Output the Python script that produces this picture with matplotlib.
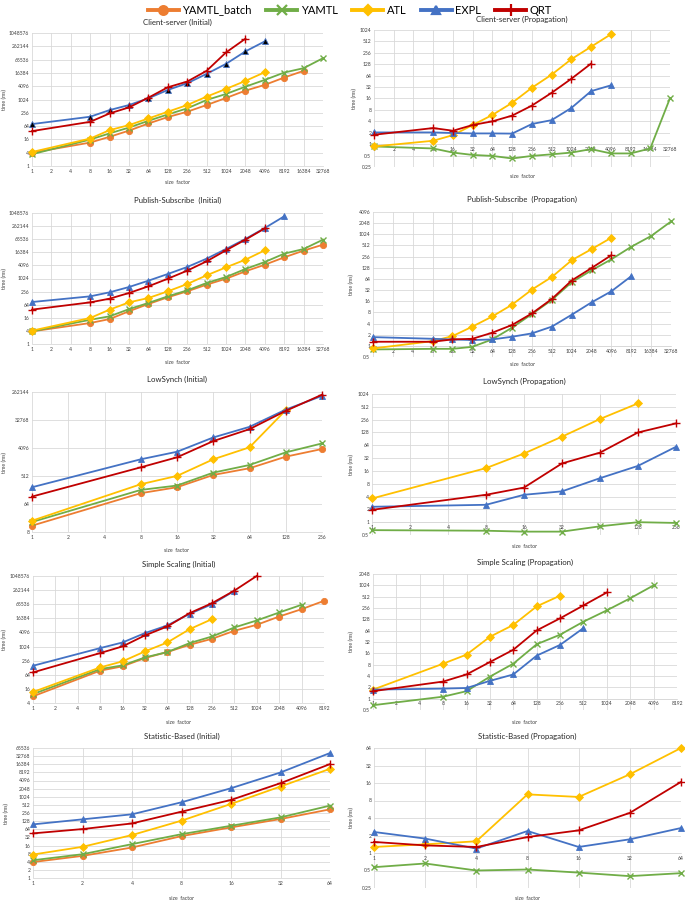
import matplotlib
matplotlib.use('Agg')
import matplotlib.pyplot as plt
from matplotlib.lines import Line2D

plt.rcParams['font.family'] = ['Lato', 'DejaVu Sans']

# ---------------- data ----------------
series_names = ['YAMTL_batch', 'YAMTL', 'ATL', 'EXPL', 'QRT']

cs_sizes = [1, 2, 4, 8, 16, 32, 64, 128, 256, 512, 1024, 2048, 4096, 8192, 16384, 32768]
cs_init_batch = [4, None, None, 11.5, 21, 40, 84, 164, 286, 575, 1200, 2580, 4700, 10100, 20300, None]
cs_init_yamtl = [3.4, None, None, 15.8, 30, 55, 111, 216, 406, 970, 1820, 3900, 7900, 17000, 26800, 76000]
cs_init_atl = [4.3, None, None, 17.5, 42, 71, 142, 286, 575, 1380, 3080, 7100, 17600, None, None, None]
cs_init_expl = [79, None, None, 170, 340, 575, 1160, 2770, 5560, 14800, 42000, 154000, 438000, None, None, None]
cs_init_qrt = [38, None, None, 100, 240, 450, 1240, 3660, 6650, 20300, 138000, 578000, None, None, None, None]

cs_prop_yamtl = [0.87, None, None, 0.77, 0.6, 0.52, 0.49, 0.42, 0.49, 0.54, 0.6, 0.74, 0.57, 0.57, 0.77, 16.3]
cs_prop_atl = [0.87, None, None, 1.23, 1.73, 3.2, 5.9, 12.3, 30.7, 68, 174, 370, 787, None, None, None]
cs_prop_expl = [2.04, None, None, 2.04, 1.97, 1.92, 1.92, 1.9, 3.4, 4.3, 9.0, 25, 35.5, None, None, None]
cs_prop_qrt = [1.77, None, None, 2.66, 2.26, 3.2, 4.0, 5.66, 10.4, 22.6, 53, 133, None, None, None, None]

ps_sizes = [1, 2, 4, 8, 16, 32, 64, 128, 256, 512, 1024, 2048, 4096, 8192, 16384, 32768]
ps_init_batch = [3.8, None, None, 9.2, 14, 32, 69, 140, 263, 533, 1000, 2190, 4400, 9600, 19500, 36800]
ps_init_yamtl = [3.8, None, None, 13, 18.7, 40, 77, 155, 292, 636, 1200, 2800, 5870, 14200, 23200, 62400]
ps_init_atl = [4.1, None, None, 15.7, 38, 82, 130, 263, 572, 1430, 3330, 7500, 20200, None, None, None]
ps_init_expl = [85, None, None, 155, 237, 416, 813, 1650, 3460, 8350, 23200, 67000, 214000, 737000, None, None]
ps_init_qrt = [38, None, None, 82, 121, 221, 447, 1000, 2350, 6300, 20200, 62400, 205000, None, None, None]

ps_prop_yamtl = [0.8, None, None, 0.83, 0.83, 0.94, 1.49, 3.1, 7.2, 17.3, 52, 109, 217, 472, 923, 2270]
ps_prop_atl = [0.85, None, None, 1.34, 1.83, 3.3, 6.2, 12.9, 33, 72, 204, 407, 830, None, None, None]
ps_prop_expl = [1.72, None, None, 1.55, 1.49, 1.43, 1.49, 1.76, 2.17, 3.3, 6.9, 14.9, 29.7, 76, None, None]
ps_prop_qrt = [1.29, None, None, 1.29, 1.49, 1.55, 2.26, 3.66, 7.5, 18.4, 58, 126, 280, None, None, None]

ls_sizes = [1, 2, 4, 8, 16, 32, 64, 128, 256]
ls_init_batch = [12.8, None, None, 143, 222, 553, 910, 2150, 3800]
ls_init_yamtl = [16.8, None, None, 182, 252, 657, 1160, 2960, 5750]
ls_init_atl = [18.5, None, None, 278, 515, 1770, 4300, 67800, None]
ls_init_expl = [222, None, None, 1770, 3100, 8960, 19700, 71000, 196000]
ls_init_qrt = [111, None, None, 975, 2050, 6840, 16600, 64500, 215000]

ls_prop_yamtl = [0.65, None, None, 0.63, 0.6, 0.6, 0.8, 1.0, 0.96]
ls_prop_atl = [3.6, None, None, 18.6, 41, 102, 265, 617, None]
ls_prop_expl = [2.3, None, None, 2.56, 4.4, 5.3, 10.8, 21, 59]
ls_prop_qrt = [1.95, None, None, 4.4, 6.5, 24, 43, 128, 209]

ss_sizes = [1, 2, 4, 8, 16, 32, 64, 128, 256, 512, 1024, 2048, 4096, 8192]
ss_init_batch = [7.7, None, None, 96, 146, 331, 596, 1220, 2200, 4830, 8700, 19600, 40300, 91400]
ss_init_yamtl = [9.6, None, None, 112, 161, 352, 596, 1440, 2760, 6700, 13300, 29100, 62000, None]
ss_init_atl = [11.8, None, None, 132, 239, 635, 1530, 5670, 15200, None, None, None, None, None]
ss_init_expl = [155, None, None, 880, 1530, 3840, 8150, 25500, 65800, 244000, None, None, None, None]
ss_init_qrt = [81, None, None, 540, 1040, 3060, 7380, 27400, 72900, 251000, 1060000, None, None, None]

ss_prop_yamtl = [0.67, None, None, 1.13, 1.58, 3.85, 8.5, 27.9, 50, 111, 222, 464, 1024, None]
ss_prop_atl = [1.74, None, None, 8.5, 14.8, 44, 91, 283, 544, None, None, None, None, None]
ss_prop_expl = [1.74, None, None, 1.85, 1.92, 2.97, 4.4, 13.9, 26.8, 75, None, None, None, None]
ss_prop_qrt = [1.58, None, None, 2.85, 4.4, 9.4, 19.9, 65, 136, 300, 662, None, None, None]

sb_sizes = [1, 2, 4, 8, 16, 32, 64]
sb_init_batch = [3.9, 6.6, 13.5, 35.6, 75, 153, 350]
sb_init_yamtl = [4.55, 7.6, 18, 42, 86, 176, 480]
sb_init_atl = [7.4, 14.3, 39, 133, 555, 2450, 11100]
sb_init_expl = [97, 149, 229, 639, 2120, 8130, 42700]
sb_init_qrt = [45, 65, 105, 287, 780, 3260, 16600]

sb_prop_yamtl = [0.57, 0.66, 0.5, 0.52, 0.46, 0.4, 0.45]
sb_prop_atl = [1.27, 1.41, 1.59, 10.2, 9.2, 22.6, 64]
sb_prop_expl = [2.3, 1.77, 1.19, 2.39, 1.27, 1.72, 2.69]
sb_prop_qrt = [1.55, 1.35, 1.27, 1.88, 2.45, 4.9, 16.7]

yt_big = [1, 4, 16, 64, 256, 1024, 4096, 16384, 65536, 262144, 1048576]
yt_cs_prop = [0.25, 0.5, 1, 2, 4, 8, 16, 32, 64, 128, 256, 512, 1024]
yt_ps_prop = [0.5, 1, 2, 4, 8, 16, 32, 64, 128, 256, 512, 1024, 2048, 4096]
yt_ls_init = [8, 64, 512, 4096, 32768, 262144]
yt_ls_prop = [0.5, 1, 2, 4, 8, 16, 32, 64, 128, 256, 512, 1024]
yt_ss_init = [4, 16, 64, 256, 1024, 4096, 16384, 65536, 262144, 1048576]
yt_ss_prop = [0.5, 1, 2, 4, 8, 16, 32, 64, 128, 256, 512, 1024, 2048]
yt_sb_init = [1, 2, 4, 8, 16, 32, 64, 128, 256, 512, 1024, 2048, 4096, 8192, 16384, 32768, 65536]
yt_sb_prop = [0.25, 0.5, 1, 2, 4, 8, 16, 32, 64]

# ---------------- style ----------------
colors = {'YAMTL_batch': '#ED7D31', 'YAMTL': '#70AD47', 'ATL': '#FFC000',
          'EXPL': '#4472C4', 'QRT': '#C00000'}
markers = {'YAMTL_batch': 'o', 'YAMTL': 'x', 'ATL': 'D', 'EXPL': '^', 'QRT': '+'}
msizes = {'YAMTL_batch': 4.5, 'YAMTL': 5, 'ATL': 4, 'EXPL': 4.5, 'QRT': 6}
GRID = '#D9D9D9'
W, H = 685, 901

fig = plt.figure(figsize=(W / 100, H / 100), dpi=100)


def fmt(v):
    return str(int(v)) if v >= 1 else ('%g' % v)


def panel(box, title, title_y, sizes, data, yticks, cross, xlabel_y, ylabel_x, expl_black=False):
    l, r, t, b = box
    ax = fig.add_axes([l / W, 1 - b / H, (r - l) / W, (b - t) / H])
    ax.set_yscale('log')
    for s in ['top', 'right', 'left']:
        ax.spines[s].set_visible(False)
    ax.spines['bottom'].set_color(GRID)
    ax.spines['bottom'].set_linewidth(0.6)
    if cross:
        ax.spines['bottom'].set_position(('data', 1))
    n = len(sizes)
    ax.set_xlim(0, n - 1)
    ax.set_ylim(yticks[0], yticks[-1])
    ax.set_xticks(range(n))
    ax.set_xticklabels([str(s) for s in sizes], fontsize=3.6, color='#404040')
    ax.set_yticks(yticks)
    ax.set_yticklabels([fmt(v) for v in yticks], fontsize=3.6, color='#404040')
    ax.minorticks_off()
    ax.tick_params(length=0, pad=2)
    for x in range(n):
        ax.axvline(x, color=GRID, lw=0.6, zorder=0)
    for y in yticks:
        ax.axhline(y, color=GRID, lw=0.6, zorder=0)
    for name, vals in data:
        xs = [i for i, v in enumerate(vals) if v is not None]
        ys = [v for v in vals if v is not None]
        mfc = colors[name]
        if name == 'EXPL' and expl_black:
            mfc = '#000000'
        ax.plot(xs, ys, color=colors[name], lw=1.3, marker=markers[name],
                ms=msizes[name], mfc=mfc, mec=colors[name],
                mew=1.0 if name in ('YAMTL', 'QRT') else 0.6,
                zorder=3, clip_on=False)
    fig.text((l + r) / 2 / W, 1 - title_y / H, title, ha='center', va='center',
             fontsize=5.6, color='#262626')
    fig.text((l + r) / 2 / W, 1 - xlabel_y / H, 'size  factor', ha='center', va='center',
             fontsize=3.8, color='#404040')
    fig.text(ylabel_x / W, 1 - (t + b) / 2 / H, 'time (ms)', ha='center', va='center',
             rotation=90, fontsize=3.8, color='#404040')
    return ax


panel((32, 323, 33, 166), 'Client-server (Initial)', 22, cs_sizes,
      [('YAMTL_batch', cs_init_batch), ('YAMTL', cs_init_yamtl), ('ATL', cs_init_atl),
       ('EXPL', cs_init_expl), ('QRT', cs_init_qrt)], yt_big, False, 183, 4, expl_black=True)
panel((374, 670, 30, 167), 'Client-server (Propagation)', 19, cs_sizes,
      [('YAMTL', cs_prop_yamtl), ('ATL', cs_prop_atl),
       ('EXPL', cs_prop_expl), ('QRT', cs_prop_qrt)], yt_cs_prop, True, 176, 354)
panel((32, 323, 213, 344), 'Publish-Subscribe  (Initial)', 200, ps_sizes,
      [('YAMTL_batch', ps_init_batch), ('YAMTL', ps_init_yamtl), ('ATL', ps_init_atl),
       ('EXPL', ps_init_expl), ('QRT', ps_init_qrt)], yt_big, False, 363, 4)
panel((373, 671, 212, 357), 'Publish-Subscribe  (Propagation)', 199, ps_sizes,
      [('YAMTL', ps_prop_yamtl), ('ATL', ps_prop_atl),
       ('EXPL', ps_prop_expl), ('QRT', ps_prop_qrt)], yt_ps_prop, True, 365, 351)
panel((32, 322, 392, 532), 'LowSynch (Initial)', 379, ls_sizes,
      [('YAMTL_batch', ls_init_batch), ('YAMTL', ls_init_yamtl), ('ATL', ls_init_atl),
       ('EXPL', ls_init_expl), ('QRT', ls_init_qrt)], yt_ls_init, False, 551, 4)
panel((372, 676, 394, 535), 'LowSynch (Propagation)', 381, ls_sizes,
      [('YAMTL', ls_prop_yamtl), ('ATL', ls_prop_atl),
       ('EXPL', ls_prop_expl), ('QRT', ls_prop_qrt)], yt_ls_prop, True, 547, 351)
panel((33, 324, 576, 703), 'Simple Scaling (Initial)', 564, ss_sizes,
      [('YAMTL_batch', ss_init_batch), ('YAMTL', ss_init_yamtl), ('ATL', ss_init_atl),
       ('EXPL', ss_init_expl), ('QRT', ss_init_qrt)], yt_ss_init, False, 723, 4)
panel((373, 677, 574, 710), 'Simple Scaling (Propagation)', 562, ss_sizes,
      [('YAMTL', ss_prop_yamtl), ('ATL', ss_prop_atl),
       ('EXPL', ss_prop_expl), ('QRT', ss_prop_qrt)], yt_ss_prop, True, 723, 351)
panel((33, 330, 748, 878), 'Statistic-Based (Initial)', 736, sb_sizes,
      [('YAMTL_batch', sb_init_batch), ('YAMTL', sb_init_yamtl), ('ATL', sb_init_atl),
       ('EXPL', sb_init_expl), ('QRT', sb_init_qrt)], yt_sb_init, False, 898, 6)
panel((374, 681, 748, 888), 'Statistic-Based (Propagation)', 736, sb_sizes,
      [('YAMTL', sb_prop_yamtl), ('ATL', sb_prop_atl),
       ('EXPL', sb_prop_expl), ('QRT', sb_prop_qrt)], yt_sb_prop, True, 899, 351)

handles = [Line2D([0], [0], color=colors[n], lw=2.8, marker=markers[n],
                  ms=msizes[n] * 1.4, mfc=colors[n], mec=colors[n], mew=1.6)
           for n in series_names]
fig.legend(handles, series_names, loc='center', bbox_to_anchor=(350 / W, 1 - 10 / H),
           ncol=5, frameon=False, fontsize=8, handlelength=2.8, handletextpad=0.3,
           columnspacing=1.3, borderaxespad=0)

fig.savefig('out.png', dpi=100)
